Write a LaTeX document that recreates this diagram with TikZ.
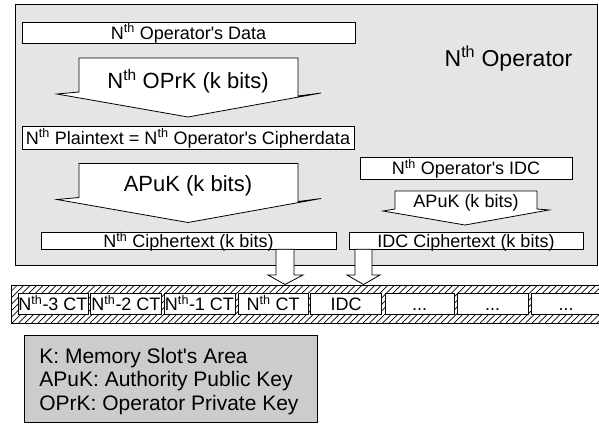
\documentclass[tikz,border=0pt]{standalone}
\usepackage{fontspec}
\setmainfont{Liberation Sans}[Ligatures=TeXOff]
\newcommand{\NTH}{N\textsuperscript{th}}
\definecolor{opgray}{HTML}{E5E5E5}
\definecolor{leggray}{HTML}{CCCCCC}
\begin{document}
\begin{tikzpicture}[x=1pt,y=-1pt,line width=0.8pt,line join=miter,
  txt/.style={font=\fontsize{18}{20}\selectfont},
  bigtxt/.style={font=\fontsize{22}{24}\selectfont},
  box/.style={draw,fill=white,inner sep=0pt,txt,text height=13.7pt,text depth=0.7pt},
  slot/.style={box,minimum height=21.7pt},
  blockarrow/.style={draw,fill=white},
  legtxt/.style={anchor=base west,inner sep=0pt,font=\fontsize{21}{23}\selectfont},
  hatch/.style={line width=0.7pt}
]
\useasboundingbox (0,0) rectangle (599,423);
\fill[white] (0,0) rectangle (599,423);

% operator area
\draw[fill=opgray] (15,4) rectangle (597,265);
\node[font=\fontsize{23}{25}\selectfont,anchor=base,inner sep=0pt] (opname) at (508.5,66.5) {\NTH\ Operator};

% data box and first key arrow
\node[box,minimum width=333pt,minimum height=21pt] (data) at (188.5,32.5) {\NTH\ Operator's Data};
\draw[blockarrow] (79,58) -- (298,58) -- (298,96) -- (321,93) -- (188,117) -- (57,94) -- (79,92) -- cycle;
\node[bigtxt,inner sep=0pt] (oprk) at (188,81) {\NTH\ OPrK (k bits)};

% plaintext box and second key arrow
\node[box,minimum width=332pt,minimum height=23pt] (plain) at (188,137.5) {\NTH\ Plaintext = \NTH\ Operator's Cipherdata};
\draw[blockarrow] (79,163.5) -- (298,163.5) -- (298,201.5) -- (321,198.5) -- (188,222.5) -- (57,199.5) -- (79,197.5) -- cycle;
\node[bigtxt,inner sep=0pt] (apuk1) at (188,185.5) {APuK (k bits)};

% IDC branch
\node[box,minimum width=212pt,minimum height=22pt] (idc) at (466,168) {\NTH\ Operator's IDC};
\draw[blockarrow] (395,191) -- (537,191) -- (537,209) -- (549,210) -- (465,225) -- (383,211) -- (395,209) -- cycle;
\node[txt,inner sep=0pt] (apuk2) at (466,203) {APuK (k bits)};

% ciphertexts
\node[box,minimum width=295pt,minimum height=16.5pt] (ct) at (188.5,241) {\NTH\ Ciphertext (k bits)};
\node[box,minimum width=234pt,minimum height=16.5pt] (idcct) at (466,241) {IDC Ciphertext (k bits)};

% memory strip
\begin{scope}
  \clip (11,285) rectangle (610,323);
  \foreach \hx in {-40,-33.5,...,610} \draw[hatch] (\hx,323) -- (\hx+38,285);
\end{scope}
\draw (610,285) -- (11,285) -- (11,323) -- (610,323);

\node[slot,minimum width=70pt] (s1) at (53,304) {\NTH-3 CT};
\node[slot,minimum width=71pt] (s2) at (126,304) {\NTH-2 CT};
\node[slot,minimum width=71pt] (s3) at (199.5,304) {\NTH-1 CT};
\node[slot,minimum width=70pt] (s4) at (273,304) {\NTH\ CT};
\node[slot,minimum width=70.5pt] (s5) at (346,304) {IDC};
\node[slot,minimum width=69pt] (s6) at (419.5,304) {...};
\node[slot,minimum width=71pt] (s7) at (492.5,304) {...};
\node[slot,minimum width=70pt] (s8) at (566,304) {...};

% transfer arrows
\draw[blockarrow] (276,249.3) -- (294,249.3) -- (294,275) -- (303,275) -- (285,284.5) -- (268,275) -- (276,275) -- cycle;
\draw[blockarrow] (355,249.3) -- (372,249.3) -- (372,275) -- (380,275) -- (363.5,284.5) -- (347,275) -- (355,275) -- cycle;

% legend
\node[draw,fill=leggray,minimum width=293pt,minimum height=87pt,inner sep=0pt,anchor=north west] (legend) at (24,335) {};
\node[legtxt] (l1) at (39,363.3) {K: Memory Slot's Area};
\node[legtxt] (l2) at (39,386.7) {APuK: Authority Public Key};
\node[legtxt] (l3) at (39,410) {OPrK: Operator Private Key};
\end{tikzpicture}
\end{document}
